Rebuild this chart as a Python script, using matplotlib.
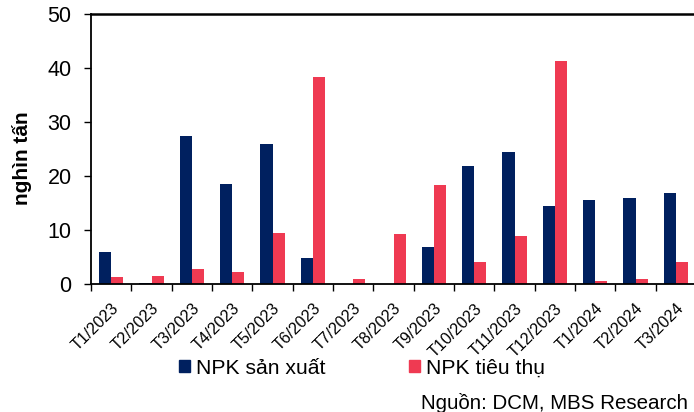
import matplotlib
matplotlib.use("Agg")
import matplotlib.pyplot as plt
import numpy as np
from matplotlib.patches import Patch

plt.rcParams['font.family'] = ['Liberation Sans', 'DejaVu Sans']

categories = ["T1/2023", "T2/2023", "T3/2023", "T4/2023", "T5/2023", "T6/2023", "T7/2023",
              "T8/2023", "T9/2023", "T10/2023", "T11/2023", "T12/2023", "T1/2024", "T2/2024", "T3/2024"]
san_xuat = [5.9, 0.2, 27.4, 18.6, 26.0, 4.9, 0.0, 0.0, 6.9, 21.8, 24.5, 14.4, 15.5, 15.9, 16.9]
tieu_thu = [1.3, 1.4, 2.7, 2.3, 9.5, 38.3, 1.0, 9.2, 18.3, 4.0, 8.9, 41.3, 0.6, 0.9, 4.0]

navy = "#00205F"
red = "#EF3A52"

fig = plt.figure(figsize=(6.94, 4.12), dpi=100)
ax = fig.add_axes([91/694, (412-284)/412, 605/694, 270/412])

x = np.arange(len(categories))
w = 0.3
ax.bar(x - w/2, san_xuat, w, color=navy, label="NPK sản xuất")
ax.bar(x + w/2, tieu_thu, w, color=red, label="NPK tiêu thụ")

ax.set_xlim(-0.5, len(categories) - 0.5)
ax.set_ylim(0, 50)
ax.set_yticks([0, 10, 20, 30, 40, 50])
ax.tick_params(axis='y', labelsize=15.5, length=5, width=1, direction='out', pad=9)
ax.set_xticks(np.arange(len(categories) + 1) - 0.5, minor=False)
ax.set_xticklabels([])
ax.set_xticks(x, minor=True)
ax.set_xticklabels(categories, minor=True, rotation=45, ha='right', va='top',
                   rotation_mode='anchor', fontsize=11.6)
ax.tick_params(axis='x', which='major', length=5, width=1, direction='out')
ax.tick_params(axis='x', which='minor', length=0, pad=12)
for s in ax.spines.values():
    s.set_linewidth(1.3)
    s.set_color('black')
ax.spines['top'].set_linewidth(1.8)

fig.text(22/694, 1 - 158/412, "nghìn tấn", fontsize=15, fontweight='bold',
         rotation=90, ha='center', va='center')

handles = [Patch(color=navy, label="NPK sản xuất"), Patch(color=red, label="NPK tiêu thụ")]
fig.legend(handles=handles, loc='center', bbox_to_anchor=(362/694, 1 - 368/412), ncol=2,
           frameon=False, fontsize=15.2, handlelength=0.52, handleheight=0.52,
           handletextpad=0.25, columnspacing=4.0, borderpad=0, borderaxespad=0)

fig.text(421/694, 1 - 403/412, "Nguồn: DCM, MBS Research", fontsize=14.8, va='center', ha='left')

fig.savefig("out.png", dpi=100)
